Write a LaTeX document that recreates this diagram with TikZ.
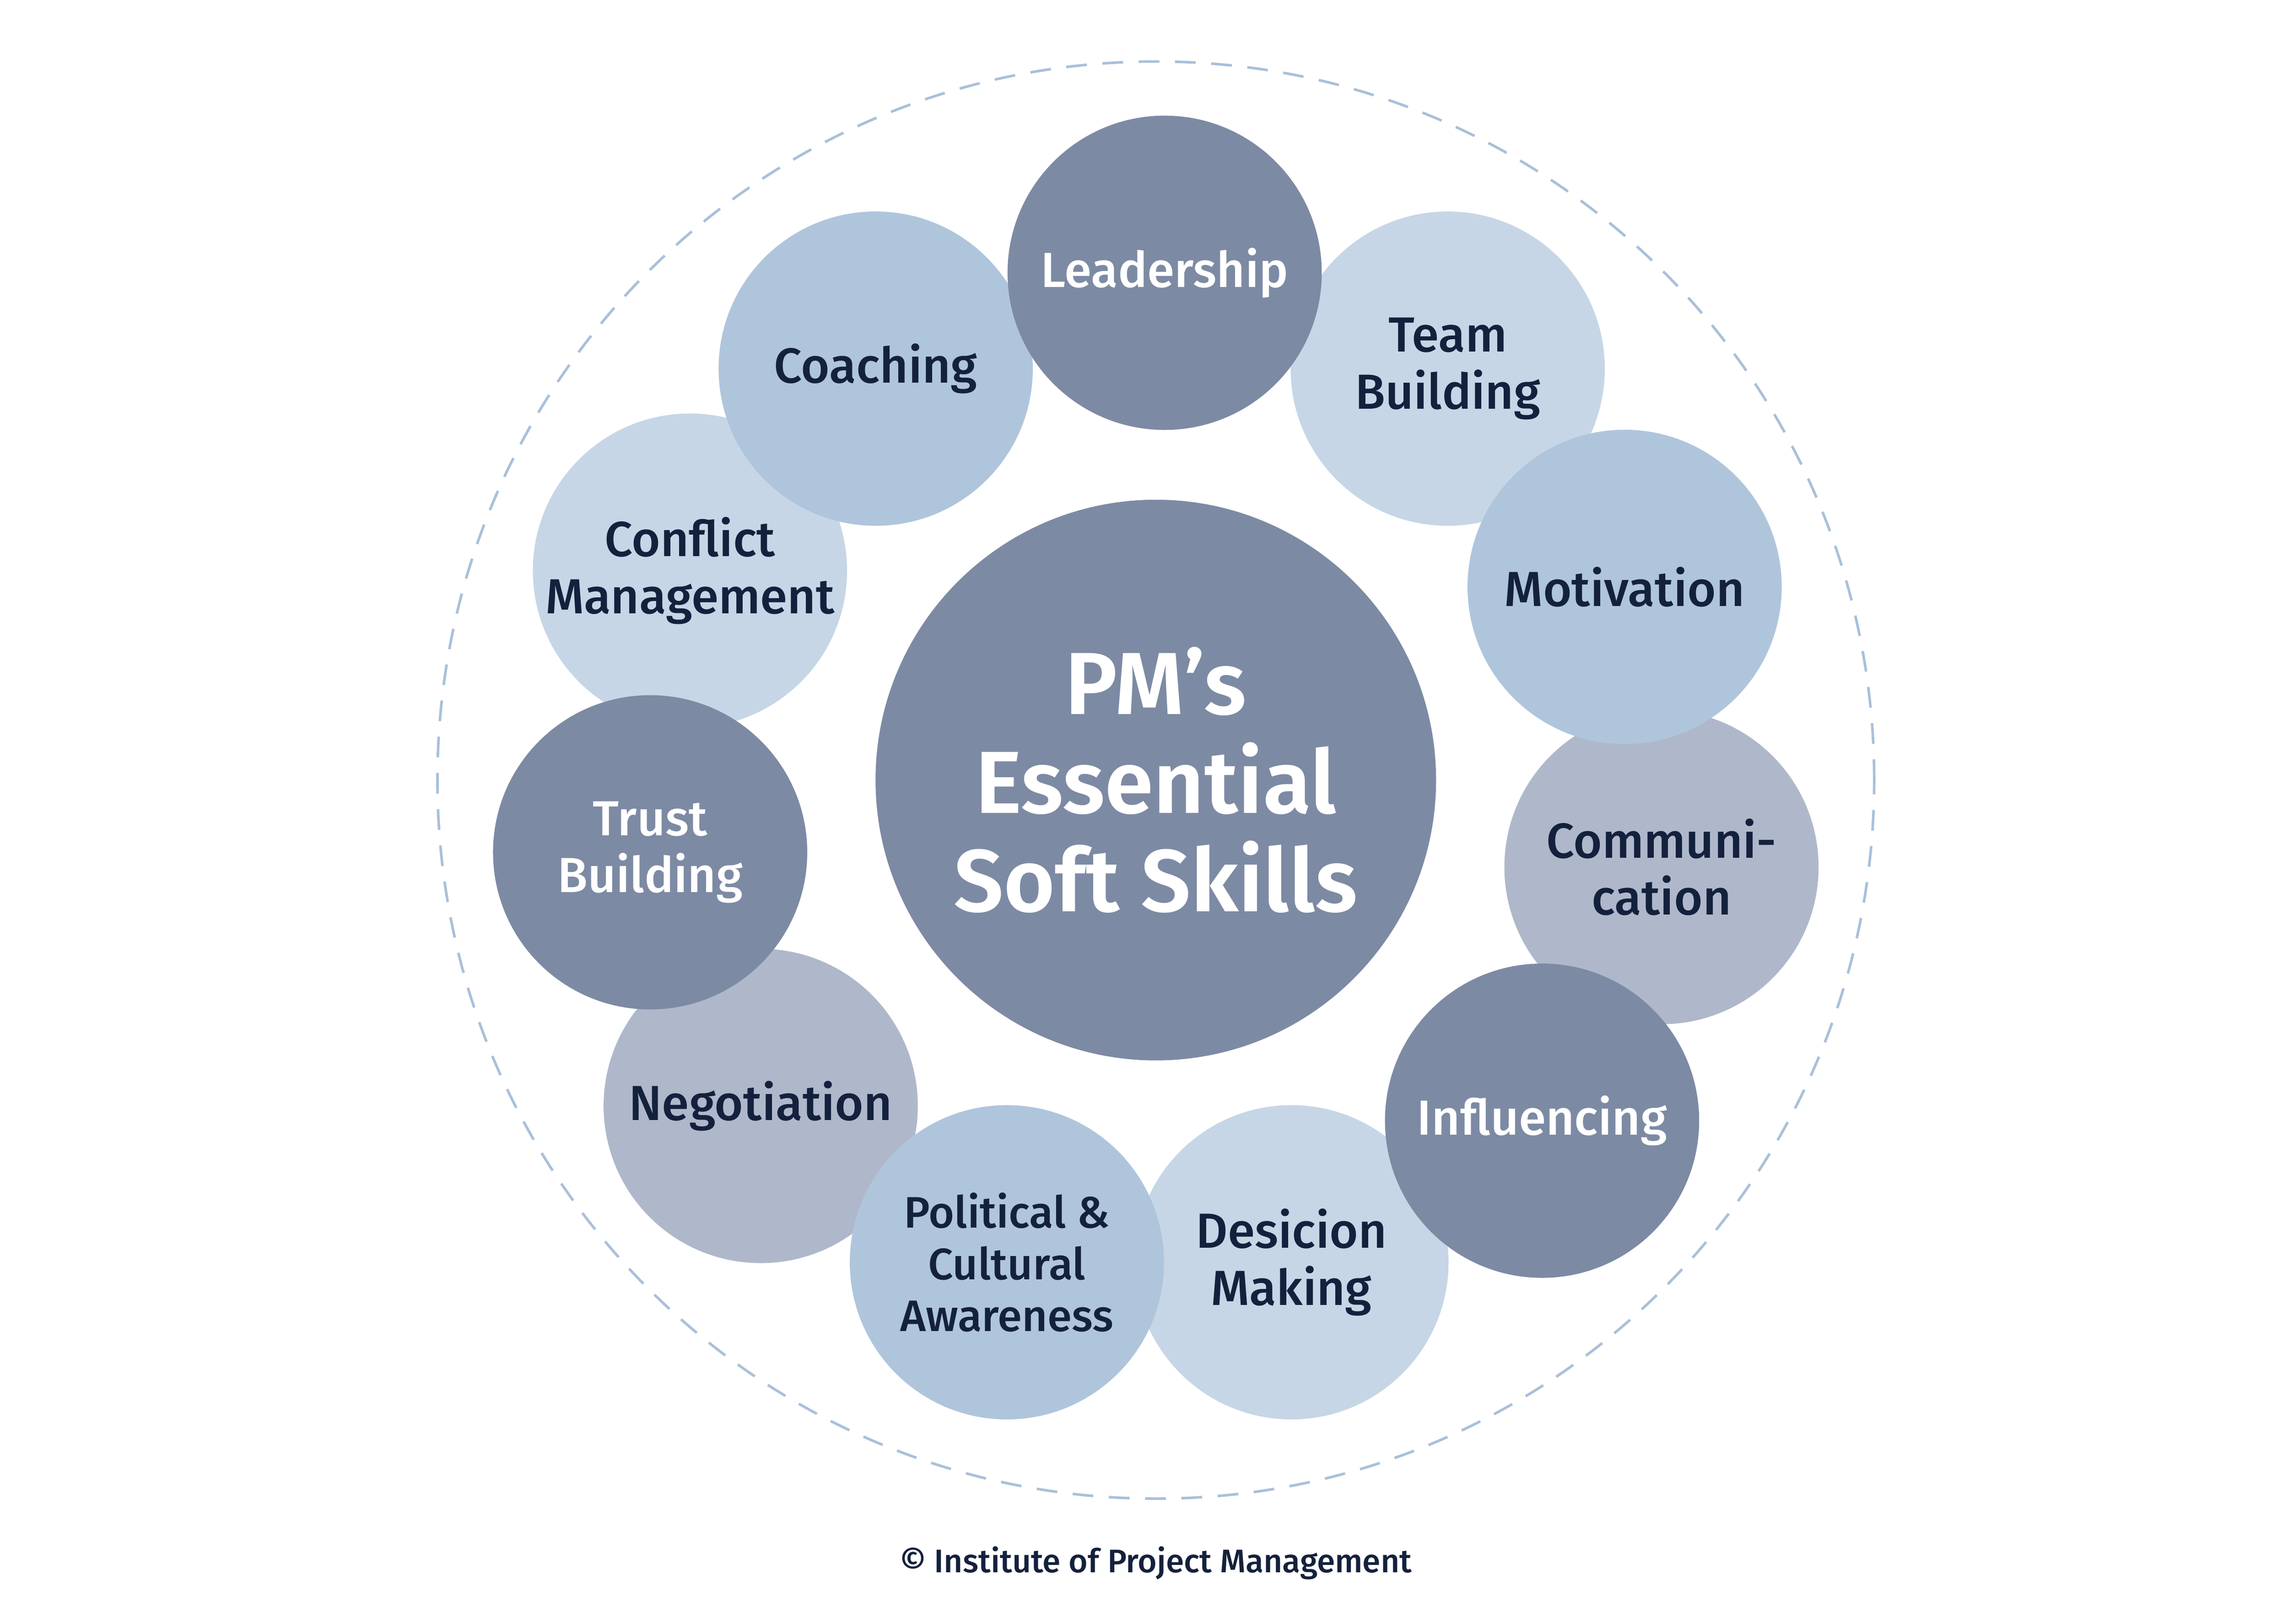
\documentclass[tikz,border=0pt]{standalone}
\usepackage{fontspec}
\setmainfont{Fira Sans}[UprightFont={* Medium},BoldFont={* SemiBold}]
\begin{document}
\definecolor{cdark}{HTML}{7D8AA4}
\definecolor{clight}{HTML}{C6D6E6}
\definecolor{cmed}{HTML}{AFC5DC}
\definecolor{cgray}{HTML}{AFB8CA}
\definecolor{navy}{HTML}{14213D}
\definecolor{dashc}{HTML}{A9C0D9}
\begin{tikzpicture}[x=0.01cm,y=-0.01cm,
  sk/.style={circle,minimum size=2.13cm,inner sep=0pt,align=center,font=\fontsize{9.5}{11}\selectfont,text=navy},
  dk/.style={sk,fill=cdark,text=white},
  lt/.style={sk,fill=clight},
  md/.style={sk,fill=cmed},
  gr/.style={sk,fill=cgray}]
\useasboundingbox (0,0) rectangle (1552,1101);
\draw[dashc,line width=0.5pt,dash pattern=on 4pt off 3pt] (784,529) circle[radius=4.87cm];
\node[dk,minimum size=3.8cm,font=\bfseries\fontsize{17}{19}\selectfont] (c) at (784,529) {PM’s\\Essential\\Soft Skills};
\node[lt] (cm) at (468,387) {Conflict\\Management};
\node[md] (co) at (594,250) {Coaching};
\node[lt] (tb) at (982,250) {Team\\Building};
\node[dk] (le) at (790,185) {Leadership};
\node[gr] (cu) at (1127,588) {Communi-\\cation};
\node[md] (mo) at (1102,398) {Motivation};
\node[lt] (dm) at (876,856) {Desicion\\Making};
\node[dk] (in) at (1046,760) {Influencing};
\node[gr] (ne) at (516,750) {Negotiation};
\node[dk] (tr) at (441,578) {Trust\\Building};
\node[md,font=\fontsize{8.5}{10}\selectfont] (po) at (683,856) {Political \&\\Cultural\\Awareness};
\node[text=navy,font=\fontsize{6.3}{7}\selectfont] (cp) at (784,1060) {© Institute of Project Management};
\end{tikzpicture}
\end{document}
